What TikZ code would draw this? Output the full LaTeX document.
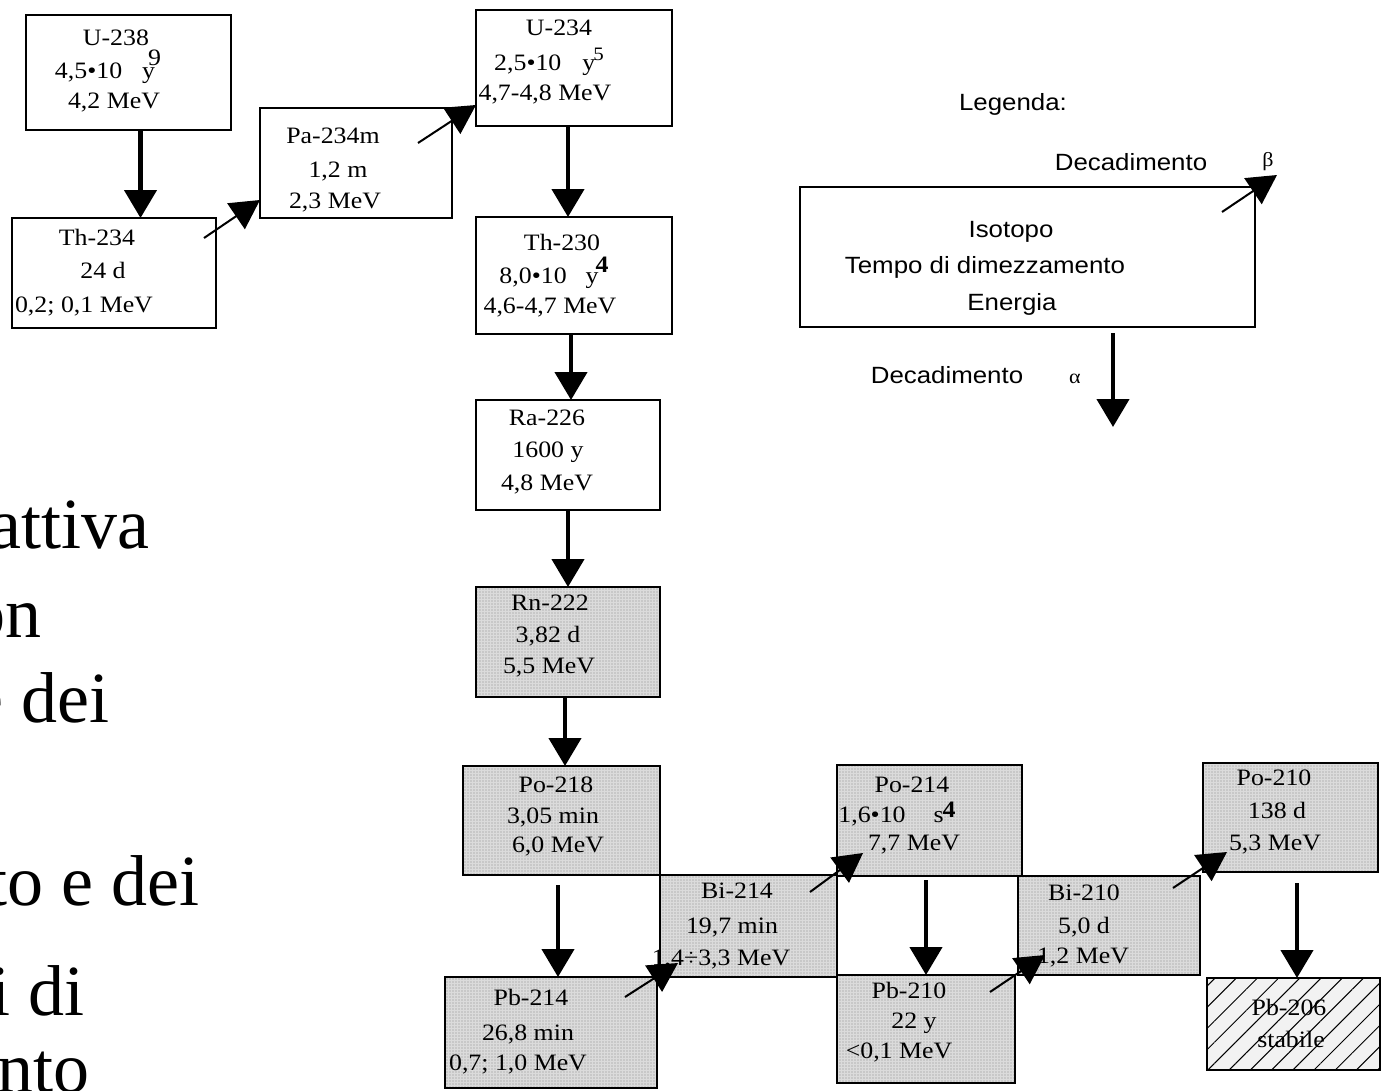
\documentclass[tikz,border=0pt]{standalone}
\usepackage{fontspec}
\setmainfont{Liberation Serif}
\newfontfamily\bfnt{Liberation Serif}[FakeStretch=1.1]
\newfontfamily\lfnt{Liberation Sans}[FakeStretch=1.1]
\usetikzlibrary{arrows.meta,patterns.meta,calc}
\newcommand\ibox[6]{\node[#6, minimum width={#4-#2}, minimum height={#5-#3}] (#1) at ({(#2+#4)/2},{(#3+#5)/2}) {};}
\begin{document}
\begin{tikzpicture}[x=1pt,y=-1pt,
  box/.style={draw, line width=2pt, inner sep=0pt, outer sep=0pt, fill=white},
  shaded/.style={draw, line width=2pt, inner sep=0pt, outer sep=0pt, preaction={fill=black!14}, pattern={Dots[distance=3pt,radius=0.55pt]}, pattern color=black!45},
  hatched/.style={draw, line width=2pt, inner sep=0pt, outer sep=0pt, preaction={fill=black!5}, pattern={Lines[angle=45,distance=15pt,line width=1pt]}, pattern color=black},
  bt/.style={anchor=base, inner sep=0pt, font=\bfnt\fontsize{23.5}{23.5}\selectfont},
  lt/.style={anchor=base, inner sep=0pt, font=\lfnt\fontsize{23.5}{23.5}\selectfont},
  bigt/.style={anchor=base east, inner sep=0pt, font=\fontsize{72}{72}\selectfont},
  alpha/.style={line width=4.5pt, -{Triangle[width=32pt,length=28pt]}},
  beta/.style={line width=2pt, -{Triangle[width=31pt,length=29pt]}}]
\fill[white] (0,0) rectangle (1395,1090);
\useasboundingbox (0,0) rectangle (1395,1090);

% left text (cut off)
\node[bigt] (l1) at (150,548) {attiva};
\node[bigt] (l2) at (42,637) {on};
\node[bigt] (l3) at (110,722) {e dei};
\node[bigt] (l4) at (200,905) {to e dei};
\node[bigt] (l5) at (85,1015) {i di};
\node[bigt] (l6) at (90,1092) {nto};

% boxes
\ibox{u238}{26}{15}{231}{130}{box}
\ibox{th234}{12}{218}{216}{328}{box}
\ibox{pa234}{260}{108}{452}{218}{box}
\ibox{u234}{476}{10}{672}{126}{box}
\ibox{th230}{476}{217}{672}{334}{box}
\ibox{ra226}{476}{400}{660}{510}{box}
\ibox{rn222}{476}{587}{660}{697}{shaded}
\ibox{po218}{463}{766}{660}{875}{shaded}
\ibox{bi214}{660}{875}{837}{977}{shaded}
\ibox{pb214}{445}{977}{657}{1088}{shaded}
\ibox{po214}{837}{765}{1022}{876}{shaded}
\ibox{bi210}{1018}{876}{1200}{975}{shaded}
\ibox{pb210}{837}{975}{1015}{1083}{shaded}
\ibox{po210}{1203}{763}{1378}{872}{shaded}
\ibox{pb206}{1207}{978}{1380}{1070}{hatched}
\ibox{leg}{800}{187}{1255}{327}{box}

% box texts
\node[bt] (u238a) at (116,45) {U-238};
\node[bt] (u238b) at (108,78) {4,5•10\hspace{20pt}y\kern-7pt\raisebox{13pt}{9}};
\node[bt] (u238c) at (114,108) {4,2 MeV};

\node[bt] (th234a) at (97,245) {Th-234};
\node[bt] (th234b) at (103,278) {24 d};
\node[bt] (th234c) at (84,312) {0,2; 0,1 MeV};

\node[bt] (pa234a) at (333,143) {Pa-234m};
\node[bt] (pa234b) at (338,177) {1,2 m};
\node[bt] (pa234c) at (335,208) {2,3 MeV};

\node[bt] (u234a) at (559,35) {U-234};
\node[bt] (u234b) at (549,70) {2,5•10\hspace{21pt}y\kern-2pt\raisebox{10pt}{\fontsize{19}{19}\selectfont 5}};
\node[bt] (u234c) at (545,100) {4,7-4,8 MeV};

\node[bt] (th230a) at (562,250) {Th-230};
\node[bt] (th230b) at (554,283) {8,0•10\hspace{19pt}y\kern-3pt\raisebox{11pt}{\textbf{4}}};
\node[bt] (th230c) at (550,313) {4,6-4,7 MeV};

\node[bt] (ra226a) at (547,425) {Ra-226};
\node[bt] (ra226b) at (548,457) {1600 y};
\node[bt] (ra226c) at (547,490) {4,8 MeV};

\node[bt] (rn222a) at (550,610) {Rn-222};
\node[bt] (rn222b) at (548,642) {3,82 d};
\node[bt] (rn222c) at (549,673) {5,5 MeV};

\node[bt] (po218a) at (556,792) {Po-218};
\node[bt] (po218b) at (553,823) {3,05 min};
\node[bt] (po218c) at (558,852) {6,0 MeV};

\node[bt] (bi214a) at (737,898) {Bi-214};
\node[bt] (bi214b) at (732,933) {19,7 min};
\node[bt] (bi214c) at (721,965) {1,4÷3,3 MeV};

\node[bt] (pb214a) at (531,1005) {Pb-214};
\node[bt] (pb214b) at (528,1040) {26,8 min};
\node[bt] (pb214c) at (518,1070) {0,7; 1,0 MeV};

\node[bt] (po214a) at (912,792) {Po-214};
\node[bt] (po214b) at (897,822) {1,6•10\hspace{28pt}s\kern-1pt\raisebox{5pt}{\textbf{4}}};
\node[bt] (po214c) at (914,850) {7,7 MeV};

\node[bt] (bi210a) at (1084,900) {Bi-210};
\node[bt] (bi210b) at (1084,933) {5,0 d};
\node[bt] (bi210c) at (1083,963) {1,2 MeV};

\node[bt] (pb210a) at (909,998) {Pb-210};
\node[bt] (pb210b) at (914,1028) {22 y};
\node[bt] (pb210c) at (899,1058) {<0,1 MeV};

\node[bt] (po210a) at (1274,785) {Po-210};
\node[bt] (po210b) at (1277,818) {138 d};
\node[bt] (po210c) at (1275,850) {5,3 MeV};

\node[bt] (pb206a) at (1289,1015) {Pb-206};
\node[bt] (pb206b) at (1291,1047) {stabile};

% legend texts
\node[lt] (lgt) at (1013,110) {Legenda:};
\node[lt] (dect) at (1131,170) {Decadimento};
\node[bt, font=\bfnt\fontsize{20}{20}\selectfont] (betat) at (1268,166) {β};
\node[lt] (lega) at (1011,237) {Isotopo};
\node[lt] (legb) at (985,273) {Tempo di dimezzamento};
\node[lt] (legc) at (1012,310) {Energia};
\node[lt] (decb) at (947,383) {Decadimento};
\node[bt, font=\bfnt\fontsize{20}{20}\selectfont] (alphat) at (1075,383) {α};

% alpha decays
\draw[alpha] ([xshift=12pt]u238.south) -- ([xshift=12pt]u238.south |- th234.north);
\draw[alpha] ([xshift=-6pt]u234.south) -- ([xshift=-6pt]u234.south |- th230.north);
\draw[alpha] ([xshift=-3pt]th230.south) -- ([xshift=-3pt]th230.south |- ra226.north);
\draw[alpha] (ra226.south) -- (rn222.north);
\draw[alpha] ([xshift=-3pt]rn222.south) -- ([xshift=-3pt]rn222.south |- po218.north);
\draw[alpha] ([shift={(-3.5,10)}]po218.south) -- ([xshift=-3.5pt]po218.south |- pb214.north);
\draw[alpha] ([shift={(-3.5,4)}]po214.south) -- ([xshift=-3.5pt]po214.south |- pb210.north);
\draw[alpha] ([shift={(6.5,11)}]po210.south) -- ([xshift=6.5pt]po210.south |- pb206.north);
\coordinate (aend) at ([shift={(85.5,100)}]leg.south);
\draw[alpha] ([shift={(85.5,6)}]leg.south) -- (aend);

% beta decays
\draw[beta] ([shift={(-12,20)}]th234.north east) -- ([shift={(0,-18)}]pa234.south west);
\draw[beta] ([shift={(-34,35)}]pa234.north east) -- ([shift={(0,-21)}]u234.south west);
\draw[beta] ([shift={(-32,20)}]pb214.north east) -- ([shift={(18,-14)}]bi214.south west);
\draw[beta] ([shift={(-27,17)}]bi214.north east) -- ([shift={(26,-23)}]po214.south west);
\draw[beta] ([shift={(-25,17)}]pb210.north east) -- ([shift={(27,-20)}]bi210.south west);
\draw[beta] ([shift={(-27,12)}]bi210.north east) -- ([shift={(24,-20)}]po210.south west);
\coordinate (bend) at ([shift={(22,-12)}]leg.north east);
\draw[beta] ([shift={(-33,25)}]leg.north east) -- (bend);
\end{tikzpicture}
\end{document}
